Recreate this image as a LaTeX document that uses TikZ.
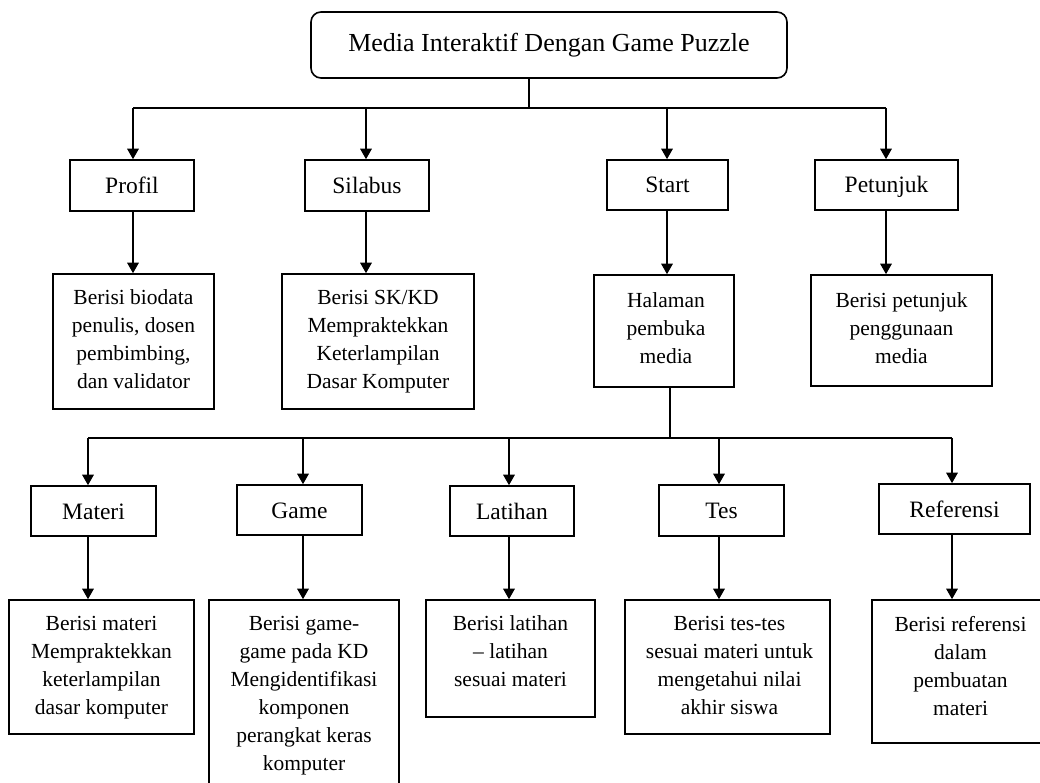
\documentclass[tikz,border=0pt]{standalone}
\usepackage{fontspec}
\setmainfont{Liberation Serif}
\usetikzlibrary{arrows.meta}
\tikzset{
  box/.style={draw, line width=1.6pt, inner sep=0pt},
  lbl/.style={box, font=\fontsize{23.5}{28}\selectfont, text height=16pt, text depth=0pt},
  titlebox/.style={draw, line width=1.6pt, rounded corners=10pt, inner sep=0pt, font=\fontsize{26}{30}\selectfont, text height=18pt, text depth=4pt},
  txt/.style={align=center, inner sep=0pt, anchor=north, font=\fontsize{21.5}{28}\selectfont},
  conn/.style={line width=1.6pt},
  arr/.style={line width=1.6pt, -{Triangle[length=10.5pt,width=11.5pt]}}
}
\begin{document}
\begin{tikzpicture}[x=1pt,y=-1pt]
\useasboundingbox (0,0) rectangle (1040,783);
\clip (0,0) rectangle (1040,783);
\fill[white] (0,0) rectangle (1040,783);

% title
\node[titlebox, minimum width=476pt, minimum height=66pt] (title) at (549,45) {Media Interaktif Dengan Game Puzzle};

% row 1
\node[lbl, minimum width=124pt, minimum height=51pt] (profil) at (132,185.5) {Profil};
\node[lbl, minimum width=124pt, minimum height=51pt] (silabus) at (367,185.5) {Silabus};
\node[lbl, minimum width=121pt, minimum height=50pt] (start) at (667.5,185) {Start};
\node[lbl, minimum width=143pt, minimum height=50pt] (petunjuk) at (886.5,185) {Petunjuk};

% row 2
\node[box, minimum width=161pt, minimum height=135pt] (dprofil) at (133.5,341.5) {};
\node[box, minimum width=192pt, minimum height=135pt] (dsilabus) at (378,341.5) {};
\node[box, minimum width=140pt, minimum height=112pt] (halaman) at (664,331) {};
\node[box, minimum width=181pt, minimum height=111pt] (dpetunjuk) at (901.5,330.5) {};

\node[txt] (tprofil) at ([yshift=-16.5pt]dprofil.north) {Berisi biodata\\penulis, dosen\\pembimbing,\\dan validator};
\node[txt] (tsilabus) at ([yshift=-16.5pt]dsilabus.north) {Berisi SK/KD\\Mempraktekkan\\Keterlampilan\\Dasar Komputer};
\node[txt] (thalaman) at ([xshift=2pt,yshift=-18.5pt]halaman.north) {Halaman\\pembuka\\media};
\node[txt] (tpetunjuk) at ([yshift=-18.5pt]dpetunjuk.north) {Berisi petunjuk\\penggunaan\\media};

% row 3
\node[lbl, minimum width=125pt, minimum height=50pt] (materi) at (93.5,511) {Materi};
\node[lbl, minimum width=125pt, minimum height=50pt] (game) at (299.5,510) {Game};
\node[lbl, minimum width=124pt, minimum height=50pt] (latihan) at (512,511) {Latihan};
\node[lbl, minimum width=125pt, minimum height=51pt] (tes) at (721.5,510.5) {Tes};
\node[lbl, minimum width=151pt, minimum height=50pt] (referensi) at (954.5,509) {Referensi};

% row 4
\node[box, minimum width=185pt, minimum height=134pt] (dmateri) at (101.5,667) {};
\node[box, minimum width=190pt, minimum height=210pt] (dgame) at (304,705) {};
\node[box, minimum width=169pt, minimum height=117pt] (dlatihan) at (510.5,658.5) {};
\node[box, minimum width=205pt, minimum height=134pt] (dtes) at (727.5,667) {};
\node[box, minimum width=177pt, minimum height=143pt] (dreferensi) at (960.5,671.5) {};

\node[txt] (tmateri) at ([yshift=-16.5pt]dmateri.north) {Berisi materi\\Mempraktekkan\\keterlampilan\\dasar komputer};
\node[txt] (tgame) at ([yshift=-16.5pt]dgame.north) {Berisi game-\\game pada KD\\Mengidentifikasi\\komponen\\perangkat keras\\komputer};
\node[txt] (tlatihan) at ([yshift=-16.5pt]dlatihan.north) {Berisi latihan\\– latihan\\sesuai materi};
\node[txt] (ttes) at ([xshift=2pt,yshift=-16.5pt]dtes.north) {Berisi tes-tes\\sesuai materi untuk\\mengetahui nilai\\akhir siswa};
\node[txt] (treferensi) at ([yshift=-16.5pt]dreferensi.north) {Berisi referensi\\dalam\\pembuatan\\materi};

% connectors: title to row 1
\coordinate (tb) at (529,108);
\coordinate (b1) at (133,108);
\coordinate (b2) at (366,108);
\coordinate (b3) at (667,108);
\coordinate (b4) at (886,108);
\draw[conn] (title.south -| tb) -- (tb);
\draw[conn] (b1) -- (b4);
\draw[arr] (b1) -- (b1 |- profil.north);
\draw[arr] (b2) -- (b2 |- silabus.north);
\draw[arr] (b3) -- (b3 |- start.north);
\draw[arr] (b4) -- (b4 |- petunjuk.north);

% row 1 to row 2
\draw[arr] (b1 |- profil.south) -- (b1 |- dprofil.north);
\draw[arr] (b2 |- silabus.south) -- (b2 |- dsilabus.north);
\draw[arr] (b3 |- start.south) -- (b3 |- halaman.north);
\draw[arr] (b4 |- petunjuk.south) -- (b4 |- dpetunjuk.north);

% halaman to row 3
\coordinate (hb) at (670,438);
\coordinate (c1) at (88,438);
\coordinate (c2) at (303,438);
\coordinate (c3) at (509,438);
\coordinate (c4) at (719,438);
\coordinate (c5) at (952,438);
\draw[conn] (halaman.south -| hb) -- (hb);
\draw[conn] (c1) -- (c5);
\draw[arr] (c1) -- (c1 |- materi.north);
\draw[arr] (c2) -- (c2 |- game.north);
\draw[arr] (c3) -- (c3 |- latihan.north);
\draw[arr] (c4) -- (c4 |- tes.north);
\draw[arr] (c5) -- (c5 |- referensi.north);

% row 3 to row 4
\draw[arr] (c1 |- materi.south) -- (c1 |- dmateri.north);
\draw[arr] (c2 |- game.south) -- (c2 |- dgame.north);
\draw[arr] (c3 |- latihan.south) -- (c3 |- dlatihan.north);
\draw[arr] (c4 |- tes.south) -- (c4 |- dtes.north);
\draw[arr] (c5 |- referensi.south) -- (c5 |- dreferensi.north);
\end{tikzpicture}
\end{document}
